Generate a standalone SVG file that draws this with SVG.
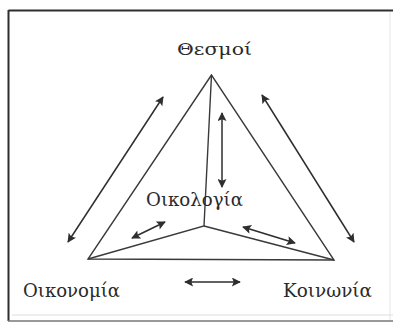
<svg xmlns="http://www.w3.org/2000/svg" width="393" height="323" viewBox="0 0 393 323">
<style>
.lbl{font-family:"DejaVu Serif","Liberation Serif",serif;fill:#2a2a2a;}
.edge{stroke:#3a3a3a;stroke-width:1.4;fill:none;}
.arr{stroke:#2e2e2e;stroke-width:1.5;fill:none;marker-start:url(#ah);marker-end:url(#ah);}
</style>
<defs>
<marker id="ah" viewBox="0 0 10 10" refX="9" refY="5" markerWidth="11" markerHeight="9" markerUnits="userSpaceOnUse" orient="auto-start-reverse">
<path d="M0,0 L10,5 L0,10 L2,5 z" fill="#2e2e2e"/>
</marker>
</defs>
<rect width="393" height="323" fill="#fff"/>
<g id="frame">
<line x1="8.5" y1="10.5" x2="393" y2="10.5" stroke="#2e2e2e" stroke-width="2"/>
<line x1="8.5" y1="10" x2="8.5" y2="321" stroke="#2e2e2e" stroke-width="2"/>
<line x1="8" y1="321" x2="393" y2="321" stroke="#777" stroke-width="1.5"/>
<line x1="12" y1="315" x2="393" y2="315" stroke="#ddd" stroke-width="1"/>
<line x1="390" y1="12" x2="390" y2="320" stroke="#e4e4e4" stroke-width="1"/>
</g>
<g id="triangle">
<polygon class="edge" points="211.5,75 88,259 334,260"/>
<polyline class="edge" points="211.5,75 204,226 88,259"/>
<line class="edge" x1="204" y1="226" x2="334" y2="260"/>
</g>
<g id="node-thesmoi"><text class="lbl" x="177" y="55" font-size="16" textLength="75" lengthAdjust="spacingAndGlyphs">Θεσμοί</text></g>
<g id="node-oikologia"><text class="lbl" x="146" y="206" font-size="18" textLength="97" lengthAdjust="spacingAndGlyphs">Οικολογία</text></g>
<g id="node-oikonomia"><text class="lbl" x="23" y="297" font-size="19" textLength="97" lengthAdjust="spacingAndGlyphs">Οικονομία</text></g>
<g id="node-koinonia"><text class="lbl" x="283" y="297" font-size="19" textLength="89" lengthAdjust="spacingAndGlyphs">Κοινωνία</text></g>
<g id="connectors">
<line class="arr" x1="68" y1="242" x2="163" y2="97"/>
<line class="arr" x1="354" y1="242" x2="262" y2="95"/>
<line class="arr" x1="222" y1="113" x2="222" y2="187"/>
<line class="arr" x1="132" y1="238" x2="165" y2="222"/>
<line class="arr" x1="243" y1="227" x2="295" y2="243"/>
<line class="arr" x1="185" y1="282" x2="240" y2="282"/>
</g>
</svg>
